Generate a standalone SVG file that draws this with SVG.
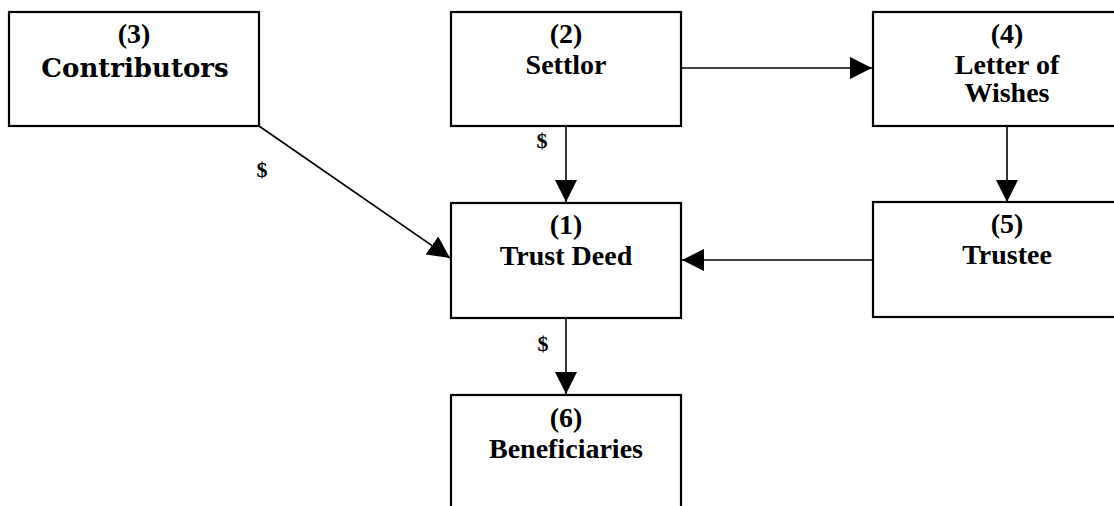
<svg xmlns="http://www.w3.org/2000/svg" width="1114" height="506" viewBox="0 0 1114 506">
<style>
.box{fill:#fff;stroke:#000;stroke-width:2.2}
.t{font-family:"Liberation Serif","Times New Roman",serif;font-weight:bold;font-size:28px;text-anchor:middle;fill:#000}
.big{font-family:"DejaVu Serif","Liberation Serif",serif;font-size:26px}
.d{font-size:22px}
.c{stroke:#000;stroke-width:1.6;fill:none;marker-end:url(#ah)}
</style>
<defs>
<marker id="ah" markerUnits="userSpaceOnUse" markerWidth="22" markerHeight="22" refX="20" refY="10" orient="auto" viewBox="0 0 20 20">
<path d="M0,0 L20,10 L0,20 Z" fill="#000"/>
</marker>
</defs>
<rect width="1114" height="506" fill="#fff"/>
<g id="n3"><rect class="box" x="9" y="12" width="250" height="114"/><text class="t" x="134" y="43">(3)</text><text class="t big" x="135" y="77">Contributors</text></g>
<g id="n2"><rect class="box" x="451" y="12" width="230" height="114"/><text class="t" x="566" y="43">(2)</text><text class="t" x="566" y="74">Settlor</text></g>
<g id="n4"><rect class="box" x="873" y="12" width="268" height="114"/><text class="t" x="1007" y="43">(4)</text><text class="t" x="1007" y="74">Letter of</text><text class="t" x="1007" y="102">Wishes</text></g>
<g id="n1"><rect class="box" x="451" y="203" width="230" height="115"/><text class="t" x="566" y="234">(1)</text><text class="t" x="566" y="265">Trust Deed</text></g>
<g id="n5"><rect class="box" x="873" y="202" width="268" height="115"/><text class="t" x="1007" y="233">(5)</text><text class="t" x="1007" y="264">Trustee</text></g>
<g id="n6"><rect class="box" x="451" y="395" width="230" height="130"/><text class="t" x="566" y="427">(6)</text><text class="t" x="566" y="458">Beneficiaries</text></g>
<g id="connectors">
<line class="c" x1="681" y1="68" x2="872" y2="68"/>
<line class="c" x1="1007" y1="126" x2="1007" y2="202"/>
<line class="c" x1="566" y1="126" x2="566" y2="202"/>
<line class="c" x1="259" y1="126" x2="450" y2="258"/>
<line class="c" x1="873" y1="260" x2="682" y2="260"/>
<line class="c" x1="566" y1="318" x2="566" y2="394"/>
<text class="t d" x="262" y="177">$</text>
<text class="t d" x="542" y="148">$</text>
<text class="t d" x="543" y="351">$</text>
</g>
</svg>
